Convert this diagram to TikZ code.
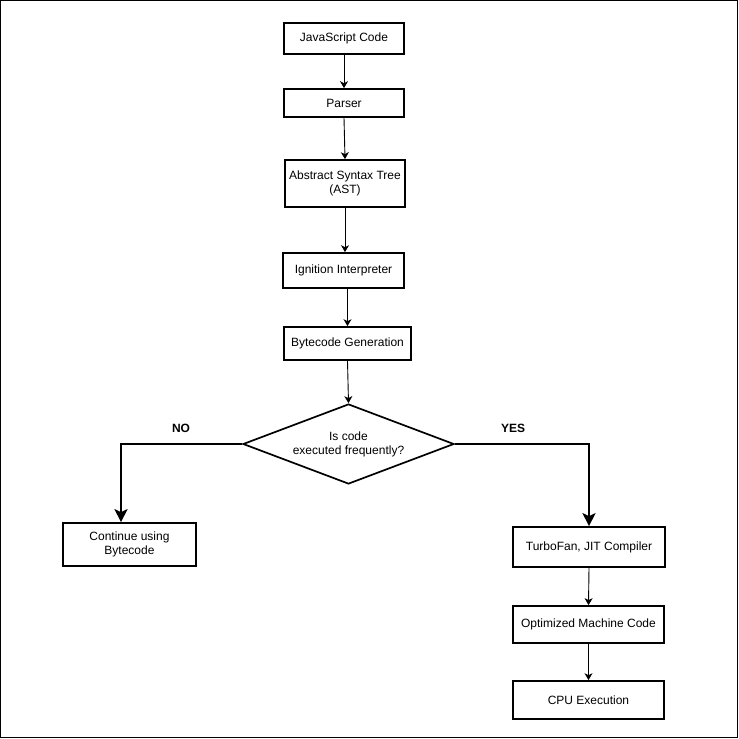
\documentclass[tikz,border=0pt]{standalone}
\usepackage{fontspec}
\setmainfont{Liberation Sans}
\usetikzlibrary{arrows.meta,shapes.geometric}
\begin{document}
\begin{tikzpicture}[x=1pt,y=-1pt,
  box/.style={draw=black,line width=1.7pt,fill=white,inner sep=0pt,align=center,
    font=\fontsize{12}{14}\selectfont},
  dia/.style={draw=black,line width=1.7pt,fill=white,shape=diamond,inner sep=0pt,
    shape aspect=2.64,minimum width=211pt,minimum height=80pt,align=center,
    font=\fontsize{12}{14}\selectfont},
  arr/.style={draw=black,line width=0.9pt,-{Stealth[length=7pt,width=8pt,inset=2pt]}},
  thick arr/.style={draw=black,line width=2.8pt,-{Stealth[length=13pt,width=13pt,inset=3pt]}},
  lbl/.style={font=\fontsize{12}{14}\selectfont\bfseries,inner sep=0pt}]
\useasboundingbox (0,0) rectangle (739,739);
\draw[line width=1pt] (0.5,0.5) rectangle (737.5,737.5);

\node[box,minimum width=120pt,minimum height=31pt] (js) at (344,38.5) {JavaScript Code};
\node[box,minimum width=120pt,minimum height=28pt] (parser) at (344,103) {Parser};
\node[box,minimum width=120pt,minimum height=47pt] (ast) at (345,183.5) {Abstract Syntax Tree\\(AST)};
\node[box,minimum width=121pt,minimum height=35pt] (ign) at (343.5,270.5) {Ignition Interpreter};
\node[box,minimum width=127pt,minimum height=33pt] (bc) at (347.5,343.5) {Bytecode Generation};
\node[dia] (dec) at (348.5,444) {Is code\\executed frequently?};
\node[box,minimum width=133pt,minimum height=43pt] (cont) at (129.5,544.5) {Continue using\\Bytecode};
\node[box,minimum width=152pt,minimum height=40pt] (tf) at (589,547) {TurboFan, JIT Compiler};
\node[box,minimum width=151pt,minimum height=37pt] (opt) at (588.5,624.5) {Optimized Machine Code};
\node[box,minimum width=151pt,minimum height=38pt] (cpu) at (588.5,700) {CPU Execution};

\coordinate (noknee) at (121,444);

\draw[arr] (js.south) -- (parser.north);
\draw[arr] (parser.south) -- (ast.north);
\draw[arr] (ast.south) -- (ast.south |- ign.north);
\draw[arr] (bc.north |- ign.south) -- (bc.north);
\draw[arr] (bc.south) -- (dec.north);
\draw[thick arr] (dec.west) -- (noknee) -- (noknee |- cont.north);
\draw[thick arr] (dec.east) -| (tf.north);
\draw[arr] (tf.south) -- (opt.north);
\draw[arr] (opt.south) -- (cpu.north);

\node[lbl] (no) at (181,428.5) {NO};
\node[lbl] (yes) at (513,428.5) {YES};
\end{tikzpicture}
\end{document}
